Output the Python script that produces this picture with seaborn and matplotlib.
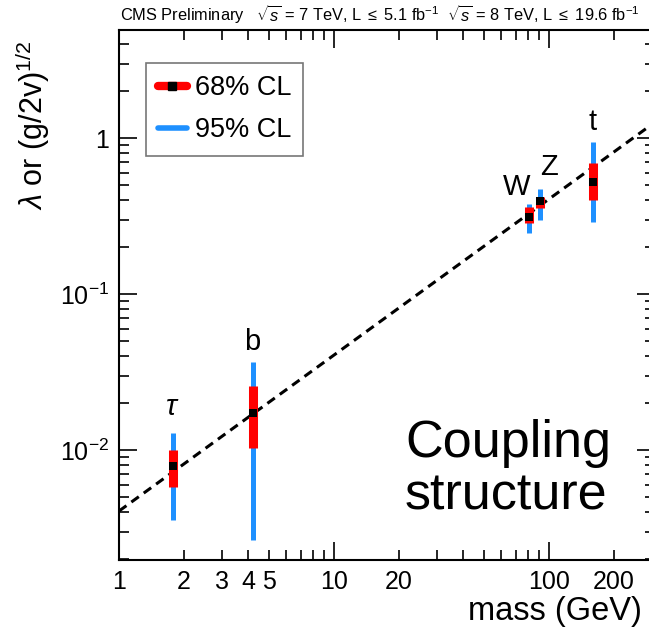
import numpy as np
import pandas as pd
import matplotlib
matplotlib.use("Agg")
import matplotlib.pyplot as plt
import seaborn as sns
from matplotlib.lines import Line2D
from matplotlib.ticker import FixedLocator, FixedFormatter, NullFormatter

# ---- data ----
particles = ["$\\tau$", "b", "W", "Z", "t"]
mass = [1.777, 4.18, 80.4, 91.2, 160.0]
central = [0.0079, 0.0173, 0.312, 0.394, 0.52]
lo68 = [0.0058, 0.0103, 0.285, 0.356, 0.40]
hi68 = [0.0100, 0.0257, 0.361, 0.419, 0.69]
lo95 = [0.00356, 0.00265, 0.246, 0.298, 0.29]
hi95 = [0.0128, 0.0366, 0.377, 0.471, 0.94]
label_offsets = [(0, 13), (0, 9), (-9, 6.5), (6.5, 10), (0, 9)]  # points

vev = 246.22
line_mass = [1.0, 320.0]
line_val = [m / vev for m in line_mass]

x_major = [1, 10, 100]
x_major_labels = ["1", "10", "100"]
x_minor = [2, 3, 4, 5, 6, 7, 8, 9, 20, 30, 40, 50, 60, 70, 80, 90, 200, 300]
x_minor_labels = {2: "2", 3: "3", 4: "4", 5: "5", 20: "20", 200: "200"}
y_major = [0.01, 0.1, 1]
y_major_labels = ["$10^{-2}$", "$10^{-1}$", "1"]

df = pd.DataFrame({"particle": particles, "mass": mass, "central": central})
line_df = pd.DataFrame({"mass": line_mass, "val": line_val})

sns.set_style("ticks")
plt.rcParams["font.family"] = ["Liberation Sans", "DejaVu Sans"]
plt.rcParams["mathtext.fontset"] = "custom"
plt.rcParams["mathtext.rm"] = "Liberation Sans"
plt.rcParams["mathtext.it"] = "Liberation Sans:italic"
for k in ["text.color", "axes.labelcolor", "xtick.color", "ytick.color", "axes.edgecolor"]:
    plt.rcParams[k] = "black"

fig = plt.figure(figsize=(6.49, 6.33), dpi=100)
W, H = 649, 633
left_px, right_px, top_px, bot_px = 119, 655, 30, 560
ax = fig.add_axes([left_px / W, 1 - bot_px / H, (right_px - left_px) / W, (bot_px - top_px) / H])

ax.set_xscale("log")
ax.set_yscale("log")
xmax = 10 ** ((right_px - left_px) / 215.0)
ax.set_xlim(1, xmax)
ax.set_ylim(10 ** (-2 - (bot_px - 450) / 156.0), 10 ** ((138 - top_px) / 156.0))

sns.lineplot(data=line_df, x="mass", y="val", ax=ax, color="black",
             linestyle=(0, (3, 2)), linewidth=2.2, zorder=2)

ax.vlines(mass, lo95, hi95, color="#1E90FF", linewidth=3.6, zorder=3)
ax.vlines(mass, lo68, hi68, color="#FF0000", linewidth=6.5, zorder=4)
sns.scatterplot(data=df, x="mass", y="central", ax=ax, marker="s", s=30,
                color="black", edgecolor="black", linewidth=0, zorder=5)

for p, m, h, off in zip(particles, mass, hi95, label_offsets):
    ax.annotate(p, (m, h), xytext=off, textcoords="offset points",
                ha="center", va="baseline", fontsize=21)

# axes formatting (ROOT-like)
for s in ax.spines.values():
    s.set_linewidth(1.5)
    s.set_color("black")
ax.xaxis.set_major_locator(FixedLocator(x_major))
ax.xaxis.set_major_formatter(FixedFormatter(x_major_labels))
ax.xaxis.set_minor_locator(FixedLocator(x_minor))
ax.xaxis.set_minor_formatter(FixedFormatter([x_minor_labels.get(v, "") for v in x_minor]))
ax.yaxis.set_major_locator(FixedLocator(y_major))
ax.yaxis.set_major_formatter(FixedFormatter(y_major_labels))
ax.yaxis.set_minor_locator(FixedLocator([k * 10.0 ** e for e in range(-3, 1) for k in range(2, 10)]))
ax.yaxis.set_minor_formatter(NullFormatter())
ax.tick_params(which="both", direction="in", top=True, right=True, labelsize=18, width=1.2)
ax.tick_params(which="major", length=13, pad=7)
ax.tick_params(which="minor", length=7, pad=7)

ax.set_xlabel("mass (GeV)", fontsize=23.5)
ax.xaxis.set_label_coords((555 - left_px) / (right_px - left_px), -(596 - bot_px) / (bot_px - top_px))
ax.set_ylabel("$\\lambda$ or (g/2v)$^{1/2}$", fontsize=22)
ax.yaxis.set_label_coords(-(left_px - 52) / (right_px - left_px), 1 - (125 - top_px) / (bot_px - top_px))
ax.grid(False)

handles = [
    Line2D([], [], color="#FF0000", lw=6, marker="s", markersize=6,
           markerfacecolor="black", markeredgecolor="black"),
    Line2D([], [], color="#1E90FF", lw=4),
]
leg = ax.legend(handles, ["68% CL", "95% CL"], loc="upper left",
                bbox_to_anchor=((146 - left_px) / (right_px - left_px), 1 - (63 - top_px) / (bot_px - top_px)),
                fontsize=19.5, frameon=True, fancybox=False, handlelength=1.05,
                handletextpad=0.3, borderpad=0.45, labelspacing=0.6, borderaxespad=0)
leg.get_frame().set_edgecolor("#555555")
leg.get_frame().set_linewidth(1.2)

fig.text(405 / W, 1 - 457 / H, "Coupling", fontsize=37.5, ha="left", va="baseline")
fig.text(405 / W, 1 - 510 / H, "structure", fontsize=37.5, ha="left", va="baseline")

fig.text(120 / W, 1 - 15 / H,
         "CMS Preliminary   $\\sqrt{s}$ = 7 TeV, L $\\leq$ 5.1 fb$^{-1}$  $\\sqrt{s}$ = 8 TeV, L $\\leq$ 19.6 fb$^{-1}$",
         fontsize=11.8, ha="left", va="center")

fig.savefig("out.png", dpi=100)
